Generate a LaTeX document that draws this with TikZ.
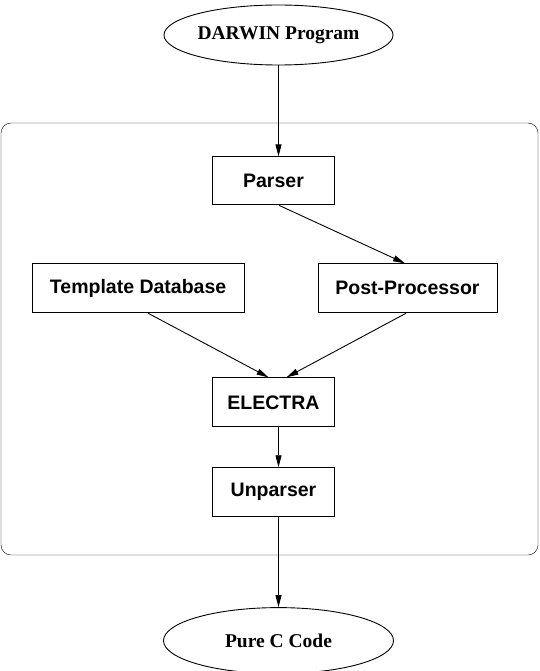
\documentclass[tikz,border=0pt]{standalone}
\usepackage{fontspec}
\setmainfont{Liberation Serif}
\setsansfont{Liberation Sans}
\usepackage{tikz}
\usetikzlibrary{arrows.meta, shapes.geometric, backgrounds, positioning}

\begin{document}
\begin{tikzpicture}[x=1pt, y=-1pt, ->, >={Triangle[length=12pt,width=6pt]}, line width=0.9pt, node distance=40pt,
    main node/.style={rectangle, draw, inner sep=0pt, minimum height=49pt, font=\sffamily\bfseries\fontsize{19.5}{23}\selectfont},
    io node/.style={ellipse, draw, inner sep=0pt, font=\rmfamily\bfseries\fontsize{19.5}{23}\selectfont}]
    \useasboundingbox (0,0) rectangle (539,671);
    \node[io node, minimum width=229pt, minimum height=60pt] (D) at (278.5,35) {DARWIN Program};
    \node[main node, minimum width=122pt, minimum height=48pt] (P) [below=91pt of D, xshift=-5pt] {Parser};
    \node[main node, minimum width=179pt] (PP) [below=58pt of P, xshift=134pt] {Post-Processor};
    \node[main node, minimum width=212pt] (TD) [left=73pt of PP] {Template Database};
    \node[main node, minimum width=122pt] (E) [below=172pt of P] {ELECTRA};
    \node[main node, minimum width=122pt] (U) [below=40pt of E] {Unparser}; % same column as ELECTRA
    \node[io node, minimum width=230pt, minimum height=66pt] (C) [below=90pt of U, xshift=5pt] {Pure C Code};
    \begin{scope}[on background layer]
        \draw[-, rounded corners=10pt] (1,123) rectangle (538,555); % the compiler frame
    \end{scope}
    \path
        (D.south) edge (D.south |- P.north)
        ([xshift=5.5pt]P.south) edge ([xshift=-2.5pt]PP.north)
        ([xshift=10pt]TD.south) edge ([xshift=-5pt]E.north)
        ([xshift=-1.5pt]PP.south) edge ([xshift=13pt]E.north)
        ([xshift=5pt]E.south) edge ([xshift=5pt]U.north)
        (C.north |- U.south) edge (C.north);
\end{tikzpicture}
\end{document}
